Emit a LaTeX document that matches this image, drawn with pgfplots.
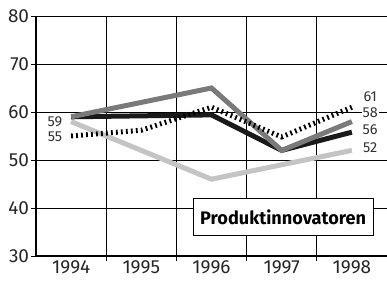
\documentclass[border=0pt]{standalone}
\usepackage{pgfplots}
\pgfplotsset{compat=1.18}
\usepackage{fontspec}
\setmainfont{Fira Sans}
\definecolor{midgray}{HTML}{7A7A7A}
\definecolor{lightgray2}{HTML}{C4C4C4}
\definecolor{darkline}{HTML}{1A1A1A}
\definecolor{labelgray}{HTML}{333333}
\begin{document}
\begin{tikzpicture}[x=1bp,y=1bp]
\begin{axis}[
  at={(36bp,28bp)}, anchor=south west,
  width=351bp, height=240bp, scale only axis,
  xmin=1993.5, xmax=1998.5, ymin=30, ymax=80,
  axis lines*=left,
  axis line style={-, line width=2.5bp, black},
  xtick={1994.5,1995.5,1996.5,1997.5}, xticklabels={},
  extra x ticks={1994,1995,1996,1997,1998},
  extra x tick labels={1994,1995,1996,1997,1998},
  extra x tick style={grid=none, major tick length=0pt},
  ytick={30,40,50,60,70,80},
  grid=major, major grid style={black, line width=0.8bp},
  tick style={black, line width=0.8bp}, major tick length=5bp,
  tick align=outside,
  tick label style={font=\fontsize{19}{21}\selectfont, text=black!85},
  xticklabel style={yshift=-1bp},
  yticklabel style={xshift=1.5bp},
  /pgf/number format/assume math mode=true,
  /pgf/number format/1000 sep={},
  clip=false,
]
\addplot[lightgray2, line width=5bp] coordinates {(1994,58) (1996,46) (1997,49) (1998,52)};
\addplot[darkline, line width=5bp] coordinates {(1994,59) (1996,59.4) (1997,52) (1998,55.8)};
\addplot[midgray, line width=5bp] coordinates {(1994,59) (1996,65) (1997,52) (1998,58)};
\addplot[black, line width=5bp, dash pattern=on 1.8bp off 3.2bp] coordinates {(1994,55) (1995,56.2) (1996,61) (1997,54.8) (1998,61)};
\begin{scope}[every node/.style={font=\fontsize{14.5}{16}\selectfont, text=labelgray, fill=white, inner sep=1bp}]
\node at (axis cs:1993.77,57.9) {59};
\node at (axis cs:1993.77,54.8) {55};
\node at (axis cs:1998.26,63.1) {61};
\node at (axis cs:1998.26,59.8) {58};
\node at (axis cs:1998.26,56.3) {56};
\node at (axis cs:1998.26,52.5) {52};
\end{scope}
\node[draw=black, line width=0.8bp, fill=white, minimum width=180bp, minimum height=37bp, inner sep=0pt,
  font=\fontsize{18.2}{20}\selectfont\bfseries] at (axis cs:1997.02,38.1) {Produktinnovatoren};
\end{axis}
\pgfresetboundingbox
\useasboundingbox (0,0) rectangle (387bp,284bp);
\end{tikzpicture}
\end{document}
